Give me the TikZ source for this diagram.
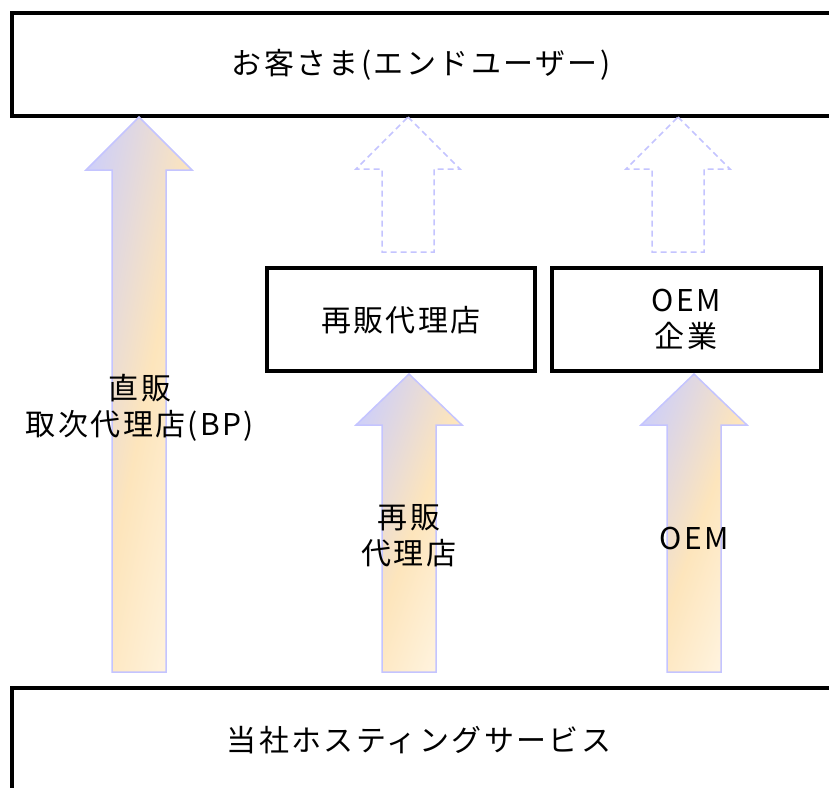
\documentclass[tikz,border=0pt]{standalone}
\usepackage{fontspec}
\setmainfont{Noto Sans CJK JP}[LetterSpace=8]
\definecolor{arrA}{HTML}{D0D0F6}
\definecolor{arrB}{HTML}{FDE5BC}
\definecolor{arrC}{HTML}{FFF4E0}
\definecolor{arrline}{HTML}{C4C4FF}
\pgfdeclarehorizontalshading{arrshade}{100bp}{color(0bp)=(arrA); color(25bp)=(arrA); color(52bp)=(arrB); color(75bp)=(arrC); color(100bp)=(arrC)}
\tikzset{
  frame/.style={draw=black, line width=4pt},
  solidarrow/.style={draw=arrline, line width=1.5pt, shading=arrshade, line join=miter},
  ghostarrow/.style={draw=arrline, line width=1.5pt, dash pattern=on 6pt off 4pt, fill=white},
  lbl/.style={font=\fontsize{30}{36}\selectfont, align=center, inner sep=0pt, text=black}
}
\newcommand\blkarrow[7]{%
  \path[#1] (#2,#3) -- (#2+#6,#4) -- (#2+#7,#4) -- (#2+#7,#5) -- (#2-#7,#5) -- (#2-#7,#4) -- (#2-#6,#4) -- cycle;}
\begin{document}
\begin{tikzpicture}[x=1pt,y=-1pt]
\useasboundingbox (0,0) rectangle (829,787);
\clip (0,0) rectangle (829,787);
% big frames
\draw[frame] (11.5,12.5) rectangle (870,116);
\draw[frame] (11.5,688) rectangle (870,820);
\node[lbl] (user) at (421,65) {お客さま(エンドユーザー)};
\node[lbl] (host) at (419,740) {当社ホスティングサービス};
% middle boxes
\draw[frame] (266.5,267.5) rectangle (535,371);
\draw[frame] (552,267.5) rectangle (820.5,371);
\node[lbl] (resell) at (401,320) {再販代理店};
\node[lbl] (oemco) at (686,320) {OEM\\企業};
% arrows
\blkarrow{solidarrow, shading angle=-11}{139}{117}{170}{672}{53}{27}
\blkarrow{solidarrow, shading angle=-20}{409}{374}{425}{672}{53}{27}
\blkarrow{solidarrow, shading angle=-20}{694}{374}{425}{672}{53}{27}
\blkarrow{ghostarrow}{408}{117}{169}{252}{52}{26}
\blkarrow{ghostarrow}{678}{117}{169}{252}{52}{26}
% arrow labels
\node[lbl] (direct) at (140,408) {直販\\取次代理店(BP)};
\node[lbl] (resellarr) at (409,535.5) {再販\\代理店};
\node[lbl] (oemarr) at (694,538) {OEM};
\end{tikzpicture}
\end{document}
